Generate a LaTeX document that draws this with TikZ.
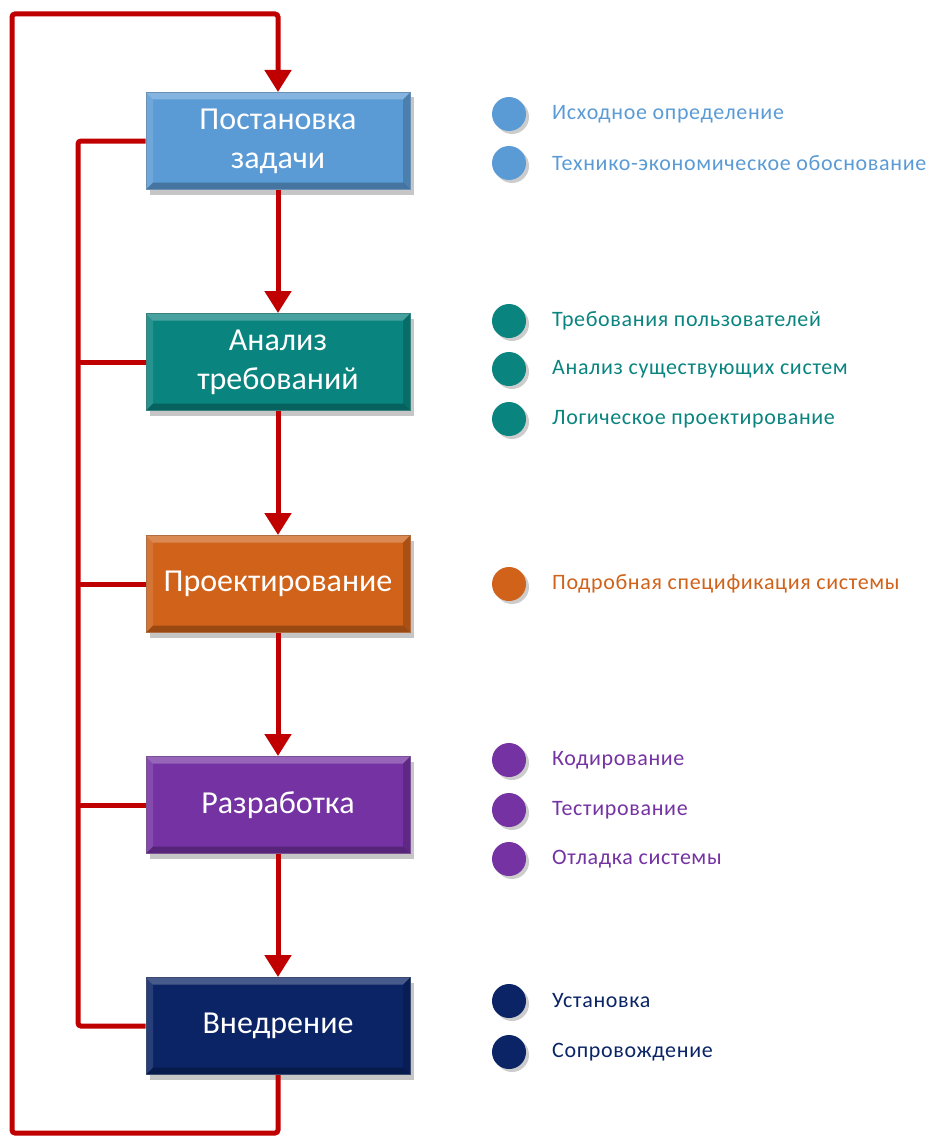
\documentclass[tikz,border=0pt]{standalone}
\usepackage{fontspec}
\setmainfont{Carlito}
\usetikzlibrary{shadows,arrows.meta}
\definecolor{cA}{HTML}{5B9BD5}
\definecolor{cB}{HTML}{0A847F}
\definecolor{cC}{HTML}{D0621A}
\definecolor{cD}{HTML}{7432A2}
\definecolor{cE}{HTML}{0A2466}
\definecolor{redl}{HTML}{C00000}
\tikzset{
  stagebox/.style={draw=#1!60!gray, line width=1pt, fill=#1, text=white,
    minimum width=264pt, minimum height=97pt, align=center,
    font=\fontsize{32}{39}\selectfont, inner sep=0pt,
    drop shadow={shadow xshift=4pt, shadow yshift=-5pt, opacity=0.45},
    path picture={
      \fill[white,opacity=0.25] (path picture bounding box.north west) -- (path picture bounding box.north east) -- ([shift={(-7pt,-7pt)}]path picture bounding box.north east) -- ([shift={(7pt,-7pt)}]path picture bounding box.north west) -- cycle;
      \fill[white,opacity=0.12] (path picture bounding box.north west) -- (path picture bounding box.south west) -- ([shift={(7pt,7pt)}]path picture bounding box.south west) -- ([shift={(7pt,-7pt)}]path picture bounding box.north west) -- cycle;
      \fill[black,opacity=0.25] (path picture bounding box.south west) -- (path picture bounding box.south east) -- ([shift={(-7pt,7pt)}]path picture bounding box.south east) -- ([shift={(7pt,7pt)}]path picture bounding box.south west) -- cycle;
      \fill[black,opacity=0.18] (path picture bounding box.north east) -- (path picture bounding box.south east) -- ([shift={(-7pt,7pt)}]path picture bounding box.south east) -- ([shift={(-7pt,-7pt)}]path picture bounding box.north east) -- cycle;
    }},
  dotnode/.style={circle, fill=#1, minimum size=34pt, inner sep=0pt,
    drop shadow={shadow xshift=3pt, shadow yshift=-3pt, opacity=0.4}},
  itemtext/.style={text=#1, anchor=west, inner sep=0pt,
    font=\fontsize{22}{26}\selectfont\addfontfeature{LetterSpace=3}},
  redline/.style={draw=redl, line width=5pt},
  flowarrow/.style={redline, -{Triangle[width=26pt,length=22pt]}},
}
\begin{document}
\begin{tikzpicture}[x=1pt,y=-1pt]
\useasboundingbox (0,0) rectangle (932,1137);
% stages
\node[stagebox=cA] (s1) at (278,141) {Постановка\\задачи};
\node[stagebox=cB] (s2) at (278,362) {Анализ\\требований};
\node[stagebox=cC] (s3) at (278,584) {Проектирование};
\node[stagebox=cD] (s4) at (278,805) {Разработка};
\node[stagebox=cE] (s5) at (278,1026) {Внедрение};
% loops
\coordinate (lb) at (12,1133);
\coordinate (lt) at (12,14);
\coordinate (it) at (78,141);
\coordinate (ib) at (78,1026);
\draw[flowarrow, rounded corners=3pt] (s5.south) |- (lb) -- (lt) -| (s1.north);
\draw[redline, rounded corners=3pt] (s1.west) -- (it) -- (ib) -- (s5.west);
\draw[redline] (s2.west) -- (s2.west -| it);
\draw[redline] (s3.west) -- (s3.west -| it);
\draw[redline] (s4.west) -- (s4.west -| it);
\draw[flowarrow] (s1.south) -- (s2.north);
\draw[flowarrow] (s2.south) -- (s3.north);
\draw[flowarrow] (s3.south) -- (s4.north);
\draw[flowarrow] (s4.south) -- (s5.north);
% bullets
\node[dotnode=cA] (b11) at (509,114) {};
\node[dotnode=cA] (b12) at (509,163) {};
\node[itemtext=cA] (t11) at (552,114) {Исходное определение};
\node[itemtext=cA] (t12) at (552,163) {Технико-экономическое обоснование};
\node[dotnode=cB] (b21) at (509,321) {};
\node[dotnode=cB] (b22) at (509,369) {};
\node[dotnode=cB] (b23) at (509,419) {};
\node[itemtext=cB] (t21) at (552,321) {Требования пользователей};
\node[itemtext=cB] (t22) at (552,369) {Анализ существующих систем};
\node[itemtext=cB] (t23) at (552,419) {Логическое проектирование};
\node[dotnode=cC] (b31) at (509,584) {};
\node[itemtext=cC] (t31) at (552,584) {Подробная спецификация системы};
\node[dotnode=cD] (b41) at (509,760) {};
\node[dotnode=cD] (b42) at (509,810) {};
\node[dotnode=cD] (b43) at (509,859) {};
\node[itemtext=cD] (t41) at (552,760) {Кодирование};
\node[itemtext=cD] (t42) at (552,810) {Тестирование};
\node[itemtext=cD] (t43) at (552,859) {Отладка системы};
\node[dotnode=cE] (b51) at (509,1001) {};
\node[dotnode=cE] (b52) at (509,1052) {};
\node[itemtext=cE] (t51) at (552,1001) {Установка};
\node[itemtext=cE] (t52) at (552,1052) {Сопровождение};
\end{tikzpicture}
\end{document}
